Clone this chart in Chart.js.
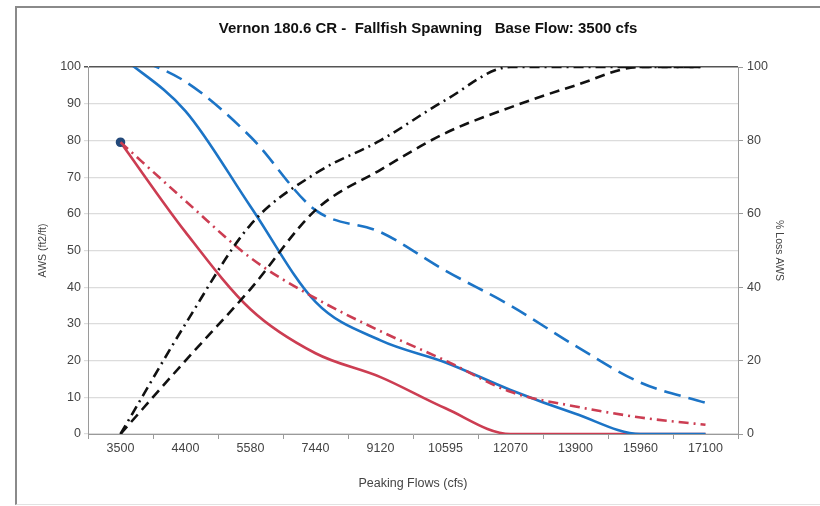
<!DOCTYPE html>
<html>
<head>
<meta charset="utf-8">
<script src="https://cdn.jsdelivr.net/npm/chart.js@4/dist/chart.umd.min.js"></script>
<style>
    html, body { margin: 0; padding: 0; background: #fff; }
    #wrap { position: relative; width: 820px; height: 506px; }
    #frame {
        position: absolute; left: 15px; top: 6px; width: 810px; height: 496px;
        border-left: 2px solid #8a8a8a; border-top: 2px solid #8a8a8a;
        border-bottom: 1px solid #e2e2e2;
    }
    canvas { position: absolute; left: 0; top: 0; }
</style>
</head>
<body>
<div id="wrap">
    <div id="frame"></div>
    <canvas id="chart" width="820" height="506"></canvas>
</div>
<script>
"use strict";

var TITLE = 'Vernon 180.6 CR -  Fallfish Spawning   Base Flow: 3500 cfs';
var FLOWS = ['3500', '4400', '5580', '7440', '9120', '10595', '12070', '13900', '15960', '17100'];

// AWS (ft2/ft), left axis
var AWS_BLUE_SOLID = [103, 88, 62, 36, 25.5, 19.5, 12, 5.5, 0, 0];
var AWS_BLUE_DASH = [104, 96, 81, 61, 55, 44.5, 35, 24, 14, 8.5];
var AWS_RED_SOLID = [79.5, 55, 34, 22, 15.5, 7, 0, 0, 0, 0];
var AWS_RED_DASHDOT = [79.5, 63.5, 48, 37, 28, 20, 11.5, 7.5, 4.5, 2.5];

// % Loss AWS, right axis
var LOSS_DASH = [0, 20, 39.5, 61, 72, 82, 89, 95, 100, 100];
var LOSS_DASHDOT = [0, 30, 57, 71, 80, 91, 100, 100, 100, 100];

var LEFT_TICKS = [0, 10, 20, 30, 40, 50, 60, 70, 80, 90, 100];
var RIGHT_TICKS = [0, 20, 40, 60, 80, 100];

var BLUE = '#1c74c6';
var RED = '#cc3d52';
var BLACK = '#111111';
var FONT = 'Liberation Sans, Arial, sans-serif';

function line(label, data, color, dash, axis) {
    return {
        label: label,
        data: data,
        yAxisID: axis,
        borderColor: color,
        backgroundColor: color,
        borderWidth: 2.6,
        borderDash: dash,
        borderCapStyle: 'butt',
        cubicInterpolationMode: 'monotone',
        pointRadius: 0,
        fill: false
    };
}

var datasets = [
    line('Loss dash', LOSS_DASH, BLACK, [10, 6], 'y2'),
    line('Loss dash-dot', LOSS_DASHDOT, BLACK, [10, 5, 2, 5], 'y2'),
    line('Red dash-dot', AWS_RED_DASHDOT, RED, [10, 5, 2, 5], 'y'),
    line('Blue dash', AWS_BLUE_DASH, BLUE, [17, 8], 'y'),
    line('Blue solid', AWS_BLUE_SOLID, BLUE, [], 'y'),
    line('Red solid', AWS_RED_SOLID, RED, [], 'y')
];
// dark marker on the shared starting point
datasets[5].pointRadius = function(ctx) { return ctx.dataIndex === 0 ? 3.5 : 0; };
datasets[5].pointBackgroundColor = '#23497a';
datasets[5].pointBorderColor = '#23497a';

// the title sits a bit right of the canvas centre in the original
var titlePlugin = {
    id: 'offsetTitle',
    afterDraw: function(chart) {
        var ctx = chart.ctx;
        ctx.save();
        ctx.font = 'bold 15px ' + FONT;
        ctx.fillStyle = '#111';
        ctx.textAlign = 'center';
        ctx.textBaseline = 'middle';
        ctx.fillText(TITLE, 428, 29);
        ctx.restore();
    }
};

Chart.defaults.font.family = FONT;
Chart.defaults.color = '#444';

var chart = new Chart(document.getElementById('chart'), {
    type: 'line',
    data: { labels: FLOWS, datasets: datasets },
    plugins: [titlePlugin],
    options: {
        responsive: false,
        animation: false,
        layout: { padding: { left: 26, right: 22, top: 67, bottom: 12 } },
        plugins: {
            legend: { display: false },
            tooltip: { enabled: false }
        },
        scales: {
            x: {
                offset: true,
                afterFit: function(s) { s.height = 60; },
                grid: { drawOnChartArea: false, tickLength: 5, color: '#9a9a9a', offset: true },
                border: { color: '#9a9a9a' },
                ticks: { font: { size: 12.5 }, padding: 2, maxRotation: 0, autoSkip: false },
                title: {
                    display: true, text: 'Peaking Flows (cfs)',
                    font: { size: 12.5 }, padding: { top: 0, bottom: 3 }
                }
            },
            y: {
                position: 'left',
                min: 0, max: 100,
                afterFit: function(s) { s.width = 62; },
                afterBuildTicks: function(s) {
                    s.ticks = LEFT_TICKS.map(function(v) { return { value: v }; });
                },
                grid: {
                    tickLength: 4,
                    color: function(ctx) { return ctx.tick && ctx.tick.value === 100 ? '#555' : '#dcdcdc'; },
                    lineWidth: function(ctx) { return ctx.tick && ctx.tick.value === 100 ? 1.5 : 1.2; }
                },
                border: { color: '#9a9a9a' },
                ticks: { font: { size: 12.5 }, padding: 3 },
                title: {
                    display: true, text: 'AWS (ft2/ft)',
                    font: { size: 10.5 }, padding: { top: 11, bottom: 0 }
                }
            },
            y2: {
                position: 'right',
                min: 0, max: 100,
                afterFit: function(s) { s.width = 60; },
                afterBuildTicks: function(s) {
                    s.ticks = RIGHT_TICKS.map(function(v) { return { value: v }; });
                },
                grid: { drawOnChartArea: false, tickLength: 5, color: '#9a9a9a' },
                border: { color: '#9a9a9a' },
                ticks: { font: { size: 12.5 }, padding: 4 },
                title: {
                    display: true, text: '% Loss AWS',
                    font: { size: 10.5 }, padding: { top: 13, bottom: 0 }
                }
            }
        }
    }
});
</script>
</body>
</html>
